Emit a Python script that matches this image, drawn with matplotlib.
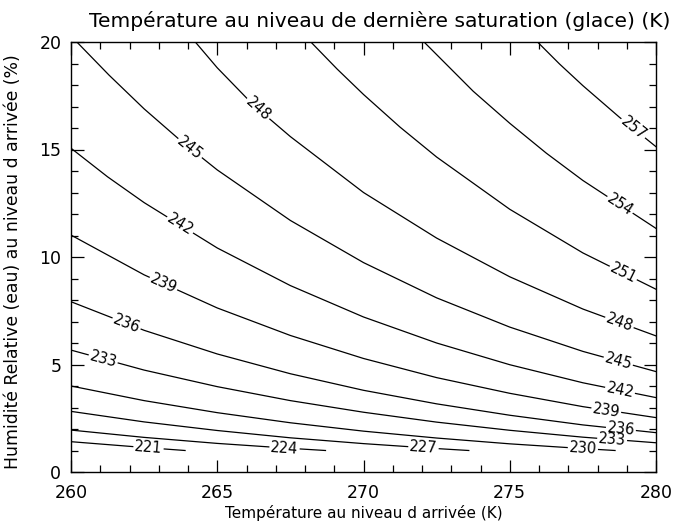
import numpy as np
import matplotlib.pyplot as plt
from matplotlib.ticker import MultipleLocator

# contour levels (K) and the curves:
# x = temperature at arrival level (K), y = relative humidity (%)
levels = [221, 224, 227, 230, 233, 236, 239, 242, 245, 248, 251, 254, 257]

x_221 = [260, 262.5, 263.9]
y_221 = [1.41, 1.14, 1.00]
x_224 = [260, 262.5, 265, 267.5, 268.7]
y_224 = [1.95, 1.61, 1.33, 1.10, 1.00]
x_227 = [260, 262.5, 265, 267.5, 270, 272.5, 273.6]
y_227 = [2.82, 2.33, 1.93, 1.59, 1.32, 1.09, 1.00]
x_230 = [260, 262.5, 265, 267.5, 270, 272.5, 275, 277.5, 278.6]
y_230 = [4.00, 3.32, 2.76, 2.29, 1.90, 1.58, 1.31, 1.09, 1.00]
x_233 = [260, 262.5, 265, 267.5, 270, 272.5, 275, 277.5, 280]
y_233 = [5.67, 4.74, 3.97, 3.32, 2.78, 2.32, 1.94, 1.62, 1.36]
x_236 = [260, 262.5, 265, 267.5, 270, 272.5, 275, 277.5, 280]
y_236 = [7.92, 6.59, 5.49, 4.57, 3.80, 3.17, 2.64, 2.19, 1.83]
x_239 = [260, 262.5, 265, 267.5, 270, 272.5, 275, 277.5, 280]
y_239 = [11.02, 9.17, 7.63, 6.35, 5.28, 4.39, 3.66, 3.04, 2.53]
x_242 = [260, 261.25, 262.5, 265, 267.5, 270, 272.5, 275, 277.5, 280]
y_242 = [15.06, 13.73, 12.53, 10.42, 8.67, 7.21, 6.00, 4.99, 4.15, 3.46]
x_245 = [260.2, 261.3, 262.5, 263.75, 265, 267.5, 270, 272.5, 275, 277.5, 280]
y_245 = [20.0, 18.46, 16.89, 15.41, 14.05, 11.70, 9.74, 8.10, 6.74, 5.61, 4.67]
x_248 = [264.25, 265, 266.25, 267.5, 270, 272.5, 275, 277.5, 280]
y_248 = [20.0, 18.80, 17.05, 15.60, 13.00, 10.88, 9.08, 7.58, 6.33]
x_251 = [268.2, 269.1, 270, 271.25, 272.5, 275, 277.5, 280]
y_251 = [20.0, 18.74, 17.56, 16.04, 14.65, 12.22, 10.19, 8.50]
x_254 = [272.07, 273.75, 275, 276.25, 277.5, 280]
y_254 = [20.0, 17.71, 16.22, 14.83, 13.56, 11.33]
x_257 = [275.95, 276.7, 277.5, 278.75, 280]
y_257 = [20.0, 18.98, 17.97, 16.50, 15.13]

# where the level values are written along each curve
lab_221 = [262.65]
lab_224 = [267.3]
lab_227 = [272.05]
lab_230 = [277.5]
lab_233 = [261.1, 278.5]
lab_236 = [261.9, 278.8]
lab_239 = [263.16, 278.3]
lab_242 = [263.73, 278.77]
lab_245 = [264.07, 278.71]
lab_248 = [266.39, 278.75]
lab_251 = [278.88]
lab_254 = [278.77]
lab_257 = [279.22]

curves = {
    221: (x_221, y_221, lab_221), 224: (x_224, y_224, lab_224),
    227: (x_227, y_227, lab_227), 230: (x_230, y_230, lab_230),
    233: (x_233, y_233, lab_233), 236: (x_236, y_236, lab_236),
    239: (x_239, y_239, lab_239), 242: (x_242, y_242, lab_242),
    245: (x_245, y_245, lab_245), 248: (x_248, y_248, lab_248),
    251: (x_251, y_251, lab_251), 254: (x_254, y_254, lab_254),
    257: (x_257, y_257, lab_257),
}

plt.rcParams['font.family'] = ['DejaVu Sans']

fig = plt.figure(figsize=(6.88, 5.25), dpi=100)
ax = fig.add_axes([71/688, 53/525, 585/688, 430/525])
ax.set_xlim(260, 280)
ax.set_ylim(0, 20)

# lines first, then all the labels on top so no label box hides another label
label_specs = []
for lev in levels:
    xs, ys, labs = curves[lev]
    ax.plot(xs, ys, color='black', lw=0.9, zorder=2)
    for xl in labs:
        yl = np.interp(xl, xs, ys)
        p1 = ax.transData.transform((xl - 0.3, np.interp(xl - 0.3, xs, ys)))
        p2 = ax.transData.transform((xl + 0.3, np.interp(xl + 0.3, xs, ys)))
        ang = np.degrees(np.arctan2(p2[1] - p1[1], p2[0] - p1[0]))
        label_specs.append((xl, yl, ang, str(lev)))

# white gaps in the lines
for xl, yl, ang, txt in label_specs:
    ax.text(xl, yl, txt, rotation=ang, rotation_mode='anchor',
            ha='center', va='center', fontsize=10.5, color='none', zorder=3,
            bbox=dict(fc='white', ec='none', pad=0.8))
# the numbers themselves
for xl, yl, ang, txt in label_specs:
    ax.text(xl, yl, txt, rotation=ang, rotation_mode='anchor',
            ha='center', va='center', fontsize=10.5, color='black', zorder=4)

ax.xaxis.set_major_locator(MultipleLocator(5))
ax.xaxis.set_minor_locator(MultipleLocator(1))
ax.yaxis.set_major_locator(MultipleLocator(5))
ax.yaxis.set_minor_locator(MultipleLocator(1))
ax.tick_params(which='both', direction='in', top=True, right=True, width=0.9)
ax.tick_params(which='major', length=9)
ax.tick_params(which='minor', length=5)
ax.tick_params(axis='x', labelsize=12.5, pad=9)
ax.tick_params(axis='y', labelsize=12.5, pad=7)
for s in ax.spines.values():
    s.set_linewidth(1.0)

fig.text(380/688, 1 - 27/525, 'Température au niveau de dernière saturation (glace) (K)',
         ha='center', va='baseline', fontsize=14.6)
fig.text(364/688, 1 - 518/525, 'Température au niveau d arrivée (K)',
         ha='center', va='baseline', fontsize=11)
fig.text(13/688, 1 - 262/525, 'Humidité Relative (eau) au niveau d arrivée (%)',
         ha='center', va='center', rotation=90, fontsize=12.4)

fig.savefig('out.png', dpi=100)
